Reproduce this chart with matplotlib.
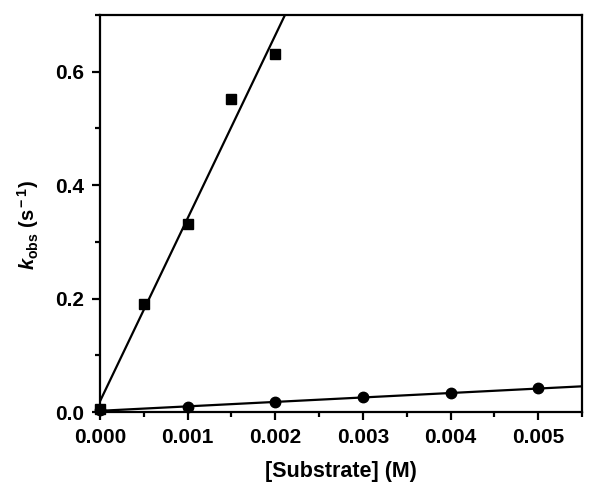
import numpy as np
import matplotlib
matplotlib.use("Agg")
import matplotlib.pyplot as plt
from matplotlib.ticker import MultipleLocator, FormatStrFormatter

plt.rcParams['font.family'] = ['Liberation Sans', 'DejaVu Sans']
plt.rcParams['font.weight'] = 'bold'
plt.rcParams['mathtext.fontset'] = 'custom'
plt.rcParams['mathtext.rm'] = 'Liberation Sans:bold'
plt.rcParams['mathtext.it'] = 'Liberation Sans:bold:italic'
plt.rcParams['mathtext.bf'] = 'Liberation Sans:bold'

# squares (fast substrate)
sq_x = [0.0, 0.0005, 0.001, 0.0015, 0.002]
sq_y = [0.005, 0.19, 0.331, 0.551, 0.631]
# circles (slow substrate)
ci_x = [0.0, 0.001, 0.002, 0.003, 0.004, 0.005]
ci_y = [0.003, 0.0094, 0.017, 0.026, 0.033, 0.042]

fig = plt.figure(figsize=(6, 4.97), dpi=100)
ax = fig.add_axes([0.1667, 0.171, 0.8033, 0.799])

# linear fits
xx = np.array([0.0, 0.0055])
p1 = np.polyfit(sq_x, sq_y, 1)
p2 = np.polyfit(ci_x, ci_y, 1)
ax.plot(xx, np.polyval(p1, xx), color='black', lw=1.6, zorder=2)
ax.plot(xx, np.polyval(p2, xx), color='black', lw=1.6, zorder=2)

ax.plot(sq_x, sq_y, 's', color='black', ms=7, zorder=3, clip_on=False)
ax.plot(ci_x, ci_y, 'o', color='black', ms=7.5, zorder=3, clip_on=False)

ax.set_xlim(0, 0.0055)
ax.set_ylim(0, 0.7)
ax.xaxis.set_major_locator(MultipleLocator(0.001))
ax.xaxis.set_minor_locator(MultipleLocator(0.0005))
ax.yaxis.set_major_locator(MultipleLocator(0.2))
ax.yaxis.set_minor_locator(MultipleLocator(0.1))
ax.xaxis.set_major_formatter(FormatStrFormatter('%.3f'))
ax.yaxis.set_major_formatter(FormatStrFormatter('%.1f'))

for s in ax.spines.values():
    s.set_linewidth(1.6)
ax.tick_params(which='major', direction='out', length=5.5, width=1.6, labelsize=15, pad=6)
ax.tick_params(which='minor', direction='out', length=3.5, width=1.6)
ax.tick_params(top=False, right=False)
for lab in ax.get_xticklabels() + ax.get_yticklabels():
    lab.set_fontweight('bold')

ax.set_xlabel('[Substrate] (M)', fontsize=15.5, fontweight='bold', labelpad=10)
ax.set_ylabel(r'$k_{\rm obs}$ (s$^{\rm -1}$)', fontsize=14.5, fontweight='bold')
ax.yaxis.set_label_coords(-0.122, 0.47)

fig.savefig('out.png', dpi=100)
